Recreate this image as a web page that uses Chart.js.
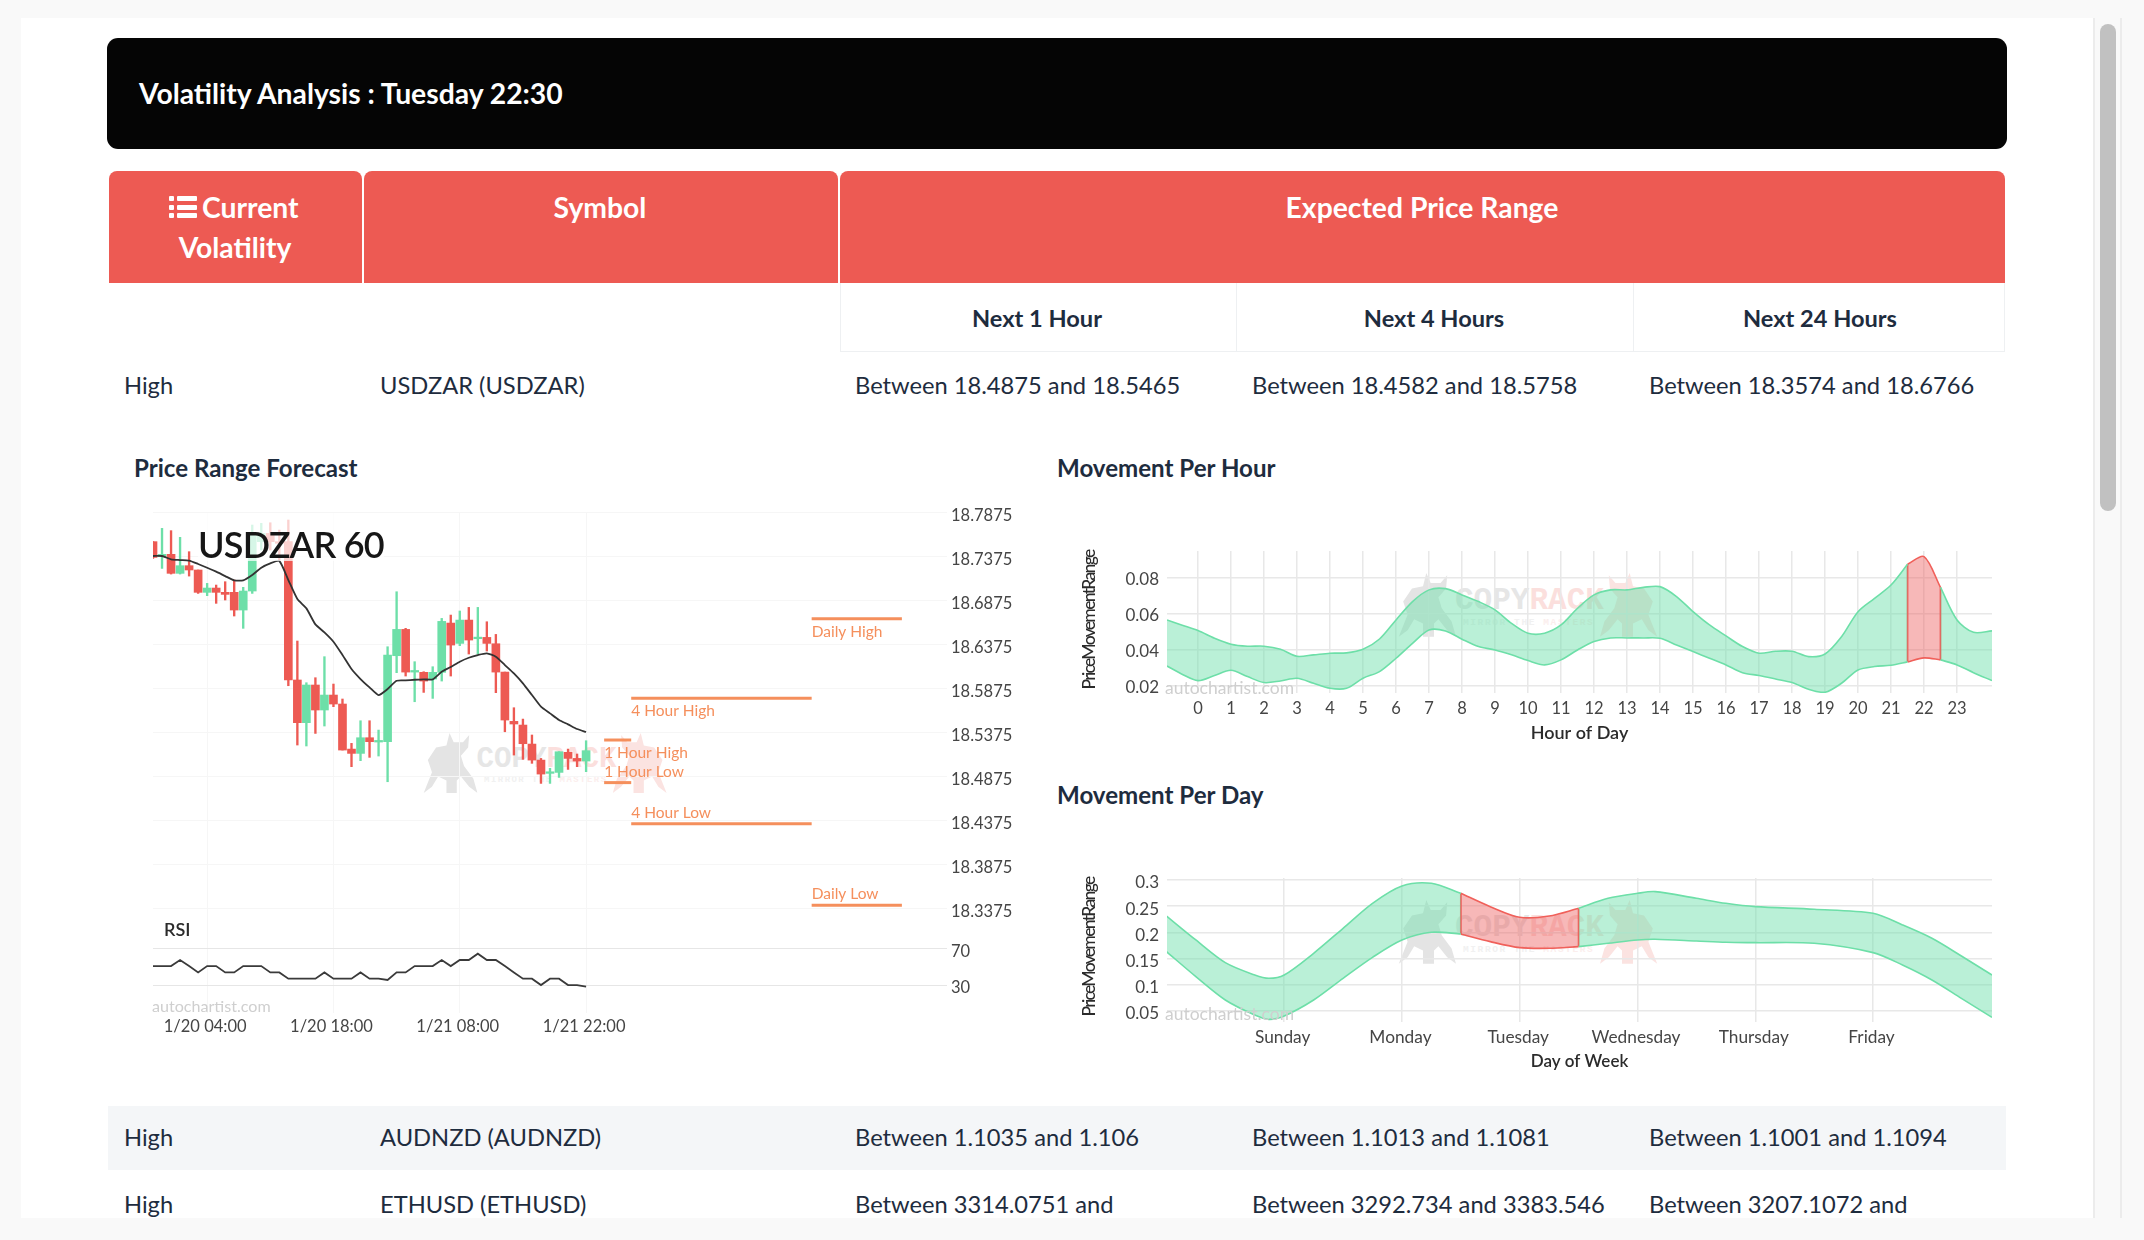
<!DOCTYPE html>
<html>
<head>
<meta charset="utf-8">
<title>Volatility Analysis</title>
<script src="https://cdn.jsdelivr.net/npm/chart.js@4"></script>
<style>
html, body { margin: 0; padding: 0; }
body { width: 2144px; height: 1240px; overflow: hidden; background: #f9f9f9; position: relative; font-family: Lato, sans-serif; color: #1e2c3e; }
.box { position: absolute; }
.txt { position: absolute; white-space: nowrap; transform: translateY(-50%); }
.mid { transform: translate(-50%, -50%); }
.cell { font-size: 23.7px; }
.sect { font-size: 24.1px; font-weight: 700; }
.head { font-size: 28.3px; font-weight: 700; color: #fff; }
.sub { font-size: 23.6px; font-weight: 700; }
canvas { position: absolute; filter: blur(0.35px); }
.ytitle { position: absolute; white-space: nowrap; font-size: 17.5px; font-weight: 500; letter-spacing: -1.7px; color: #2b2b2b; transform: translate(-50%, -50%) rotate(-90deg); }
.autotxt { position: absolute; white-space: nowrap; color: #cfcfcf; transform: translateY(-50%); }
.wmk { position: absolute; font-family: "Liberation Mono", monospace; font-weight: 700; white-space: nowrap; transform-origin: 0 0; }
</style>
</head>
<body>
<div id="page"></div>
<canvas id="priceChart" width="867" height="560" style="left:153px;top:485px"></canvas>
<canvas id="hourChart" width="960" height="230" style="left:1060px;top:520px"></canvas>
<canvas id="dayChart" width="960" height="230" style="left:1060px;top:848px"></canvas>
<div id="over"></div>
<script>
// ---- table text ----
const rowLevels = ['High', 'High', 'High'];
const rowSymbols = ['USDZAR (USDZAR)', 'AUDNZD (AUDNZD)', 'ETHUSD (ETHUSD)'];
const rowNextHour = ['Between 18.4875 and 18.5465', 'Between 1.1035 and 1.106', 'Between 3314.0751 and'];
const rowNextFour = ['Between 18.4582 and 18.5758', 'Between 1.1013 and 1.1081', 'Between 3292.734 and 3383.546'];
const rowNextDay = ['Between 18.3574 and 18.6766', 'Between 1.1001 and 1.1094', 'Between 3207.1072 and'];

// ---- price chart (hourly candles, index 0 = first bar) ----
const candleOpen = [18.7538,18.7367,18.7394,18.7178,18.7265,18.7216,18.6962,18.7011,18.6962,18.6962,18.6761,18.6977,18.7538,18.7632,18.7538,18.7538,18.5966,18.5481,18.5909,18.5625,18.5795,18.5693,18.5181,18.5132,18.5310,18.5261,18.5265,18.6242,18.6541,18.6056,18.6053,18.5977,18.6053,18.6613,18.6382,18.6647,18.6435,18.6450,18.6378,18.6056,18.5496,18.5454,18.5238,18.5056,18.4905,18.4916,18.5144,18.5075,18.5045];
const candleClose = [18.7359,18.7394,18.7178,18.7265,18.7216,18.6962,18.7011,18.6962,18.6939,18.6761,18.6977,18.7613,18.7632,18.7538,18.7519,18.5966,18.5481,18.5909,18.5625,18.5795,18.5693,18.5170,18.5132,18.5310,18.5265,18.5276,18.6250,18.6541,18.6056,18.6072,18.5954,18.6053,18.6632,18.6363,18.6647,18.6420,18.6450,18.6382,18.6056,18.5511,18.5466,18.5242,18.5056,18.4897,18.4916,18.5151,18.5075,18.5045,18.5163];
const candleHigh = [18.7538,18.7689,18.7663,18.7587,18.7424,18.7216,18.7064,18.7045,18.7083,18.7102,18.7019,18.7727,18.7746,18.7753,18.7670,18.7784,18.6409,18.5935,18.5992,18.6231,18.5920,18.5750,18.5246,18.5503,18.5503,18.5397,18.6344,18.6969,18.6553,18.6174,18.6060,18.6117,18.6666,18.6704,18.6750,18.6791,18.6791,18.6628,18.6484,18.6056,18.5651,18.5522,18.5341,18.5075,18.4962,18.5151,18.5181,18.5125,18.5276];
const candleLow = [18.7348,18.7234,18.7170,18.7170,18.7147,18.6950,18.6924,18.6837,18.6875,18.6693,18.6553,18.6950,18.7443,18.7443,18.7329,18.5901,18.5227,18.5216,18.5359,18.5443,18.5663,18.5170,18.4981,18.5049,18.5087,18.5102,18.4810,18.6049,18.6011,18.5719,18.5825,18.5757,18.5954,18.6011,18.6356,18.6261,18.6261,18.6295,18.5822,18.5378,18.5113,18.5064,18.5019,18.4791,18.4791,18.4859,18.4950,18.4981,18.4924];
const maLine = [18.7375,18.7375,18.7337,18.7329,18.7322,18.7284,18.7242,18.7197,18.7147,18.7098,18.7098,18.7159,18.7242,18.7291,18.7318,18.7102,18.6886,18.6780,18.6598,18.6507,18.6401,18.6250,18.6091,18.5977,18.5882,18.5795,18.5863,18.5958,18.5962,18.5969,18.5973,18.5973,18.6060,18.6113,18.6174,18.6219,18.6250,18.6269,18.6231,18.6136,18.6041,18.5928,18.5795,18.5663,18.5587,18.5511,18.5462,18.5409,18.5375];
const rsiLine = [50.7,50.7,50.7,57.3,50.7,43.8,50.7,50.7,43.8,43.8,50.7,50.7,50.7,43.8,43.8,36.9,36.9,36.9,36.9,43.8,36.9,36.9,36.9,43.8,36.9,36.9,35.5,43.8,43.8,50.7,50.7,50.7,57.3,50.7,57.3,57.3,64.2,57.3,57.3,50.7,43.8,36.9,36.9,30,36.9,36.9,30,30,28.2];
const priceTicks = [18.7875,18.7375,18.6875,18.6375,18.5875,18.5375,18.4875,18.4375,18.3875,18.3375];
const rsiTicks = [70, 30];
const timeTicks = [6, 20, 34, 48];
const timeLabels = ['1/20 04:00', '1/20 18:00', '1/21 08:00', '1/21 22:00'];
const rangeNames = ['1 Hour High', '1 Hour Low', '4 Hour High', '4 Hour Low', 'Daily High', 'Daily Low'];
const rangeValues = [18.5284, 18.4800, 18.5758, 18.4333, 18.6663, 18.3406];
const rangeFrom = [50, 50, 53, 53, 73, 73];
const rangeTo = [53, 53, 73, 73, 83, 83];

// ---- movement per hour ----
const hourX = [-0.94,-0.5,0,0.5,1,1.5,2,2.5,3,3.5,4,4.5,5,5.5,6,6.5,7,7.5,8,8.5,9,9.5,10,10.5,11,11.5,12,12.5,13,13.5,14,14.5,15,15.5,16,16.5,17,17.5,18,18.5,19,19.5,20,20.5,21,21.5,22,22.5,23,23.5,24.06];
const hourUpper = [.0567,.0539,.0508,.0465,.0432,.0421,.0421,.0404,.0365,.0373,.0382,.0384,.0404,.0461,.0567,.0669,.0734,.0741,.0706,.0669,.0623,.0548,.0493,.0493,.0539,.0632,.0706,.0734,.0734,.0748,.0752,.0697,.0613,.0539,.0478,.0419,.0382,.0393,.0393,.0363,.0378,.0474,.0613,.0687,.0761,.0876,.0919,.0748,.0567,.0498,.0506];
const hourLower = [.0311,.0267,.0230,.0258,.0287,.0252,.0219,.0228,.0243,.0215,.0187,.0187,.0243,.0280,.0354,.0437,.0511,.0506,.0460,.0419,.0400,.0373,.0341,.0317,.0345,.0400,.0447,.0467,.0467,.0467,.0465,.0428,.0391,.0354,.0317,.0274,.0258,.0239,.0219,.0182,.0165,.0215,.0289,.0308,.0315,.0334,.0356,.0345,.0317,.0274,.0230];
const hourTicksX = [0,1,2,3,4,5,6,7,8,9,10,11,12,13,14,15,16,17,18,19,20,21,22,23];
const hourTicksY = [0.08, 0.06, 0.04, 0.02];
const hourNow = [21.5, 22.5];

// ---- movement per day ----
const dayX = [-1,-0.75,-0.5,-0.25,-0.13,0,0.25,0.5,0.75,1,1.25,1.5,1.75,2,2.25,2.5,2.75,3,3.15,3.5,3.75,4,4.5,5,5.25,5.5,5.75,6.01];
const dayUpper = [.2313,.1855,.1423,.1187,.1124,.1187,.1601,.2078,.2555,.2886,.2937,.2746,.2491,.2288,.2313,.2460,.2650,.2746,.2778,.2650,.2555,.2491,.2441,.2364,.2142,.1887,.1550,.1187];
const dayLower = [.1633,.1156,.0710,.0424,.0341,.0405,.0710,.1124,.1524,.1855,.2002,.1970,.1824,.1709,.1696,.1728,.1792,.1855,.1868,.1836,.1811,.1804,.1792,.1614,.1378,.1092,.0742,.0379];
const dayTicksX = [0,1,2,3,4,5];
const dayNames = ['Sunday','Monday','Tuesday','Wednesday','Thursday','Friday'];
const dayTicksY = [0.3,0.25,0.2,0.15,0.1,0.05];
const dayNow = [1.5, 2.5];

const RED = '#ed5a53';
const GREEN = '#6ddfa8';
const ORANGE = '#f58f5c';
const TICK = '#454545';

Chart.defaults.font.family = 'Lato, sans-serif';
Chart.defaults.animation = false;

/**
 * Page furniture (everything around the charts)
 */
function addBox(parent, left, top, width, height, css) {
    const el = document.createElement('div');
    el.className = 'box';
    el.style.cssText = `left:${left}px;top:${top}px;width:${width}px;height:${height}px;${css}`;
    parent.appendChild(el);
    return el;
}

function addText(parent, text, x, y, cls) {
    const el = document.createElement('div');
    el.className = 'txt ' + cls;
    el.textContent = text;
    el.style.left = x + 'px';
    el.style.top = y + 'px';
    parent.appendChild(el);
    return el;
}

function buildPage() {
    const page = document.getElementById('page');
    addBox(page, 21, 18, 2072, 1200, 'background:#fff');
    addBox(page, 2093, 18, 2, 1200, 'background:#ececec');
    addBox(page, 2120, 18, 2, 1200, 'background:#ececec');
    addBox(page, 2100, 24, 16, 487, 'background:#c1c1c1;border-radius:8px');

    addBox(page, 107, 38, 1900, 111, 'background:#050505;border-radius:11px');
    addText(page, 'Volatility Analysis : Tuesday 22:30', 139, 93, 'head');

    addBox(page, 109, 171, 253, 112, `background:${RED};border-radius:8px 8px 0 0`);
    addBox(page, 364, 171, 474, 112, `background:${RED};border-radius:8px 8px 0 0`);
    addBox(page, 840, 171, 1165, 112, `background:${RED};border-radius:8px 8px 0 0`);

    // list icon of the first header cell
    const icon = addBox(page, 169, 195, 28, 26, '');
    [1, 9.5, 18].forEach(top => {
        addBox(icon, 0, top, 5, 5, 'background:#fff;border-radius:1px');
        addBox(icon, 8, top, 20, 5, 'background:#fff;border-radius:1px');
    });
    addText(page, 'Current', 202, 207, 'head');
    addText(page, 'Volatility', 235, 247, 'head mid');
    addText(page, 'Symbol', 600, 207, 'head mid');
    addText(page, 'Expected Price Range', 1422, 207, 'head mid');

    addBox(page, 840, 283, 1165, 69, 'box-sizing:border-box;border:solid #eef0f2;border-width:0 1px 1px 1px');
    addBox(page, 1236, 283, 1, 69, 'background:#eef0f2');
    addBox(page, 1633, 283, 1, 69, 'background:#eef0f2');
    addText(page, 'Next 1 Hour', 1037, 318, 'sub mid');
    addText(page, 'Next 4 Hours', 1434, 318, 'sub mid');
    addText(page, 'Next 24 Hours', 1820, 318, 'sub mid');

    addBox(page, 108, 1106, 1898, 64, 'background:#f4f6f8');
    const rowY = [385, 1137, 1204];
    rowY.forEach((y, i) => {
        addText(page, rowLevels[i], 124, y, 'cell');
        addText(page, rowSymbols[i], 380, y, 'cell');
        addText(page, rowNextHour[i], 855, y, 'cell');
        addText(page, rowNextFour[i], 1252, y, 'cell');
        addText(page, rowNextDay[i], 1649, y, 'cell');
    });

    addText(page, 'Price Range Forecast', 134, 467, 'sect');
    addText(page, 'Movement Per Hour', 1057, 467, 'sect');
    addText(page, 'Movement Per Day', 1057, 794, 'sect');

    addWatermark(page, 422, 733, 0.94);
    addWatermark(page, 1397, 573, 1);
    addWatermark(page, 1397, 900, 1);
}

/**
 * Faint logo that sits behind the charts
 */
function addWatermark(parent, left, top, scale) {
    const bull = 'M8 58 L16 38 L12 26 L20 14 L30 12 L33 0 L37 9 L46 9 L52 2 L51 14 L44 22 L47 32 L56 44 L60 58 L52 52 L44 42 L40 46 L40 58 L30 58 L30 46 L22 42 L16 52 Z';
    const wrap = addBox(parent, left, top, 270, 62, `transform-origin:0 0;transform:scale(${scale})`);
    wrap.innerHTML =
        `<svg viewBox="0 0 60 60" width="66" height="66" style="position:absolute;left:-7px;top:0"><path d="${bull}" fill="#e4e4e4"/></svg>` +
        `<svg viewBox="0 0 60 60" width="66" height="66" style="position:absolute;left:203px;top:0;transform:scaleX(-1)"><path d="${bull}" fill="#fbe3e1"/></svg>` +
        '<div class="wmk" style="left:58px;top:10px;font-size:31px;color:#e6e6e6;letter-spacing:0">COPY<span style="color:#fbdfdd">RACK</span></div>' +
        '<div class="wmk" style="left:66px;top:44px;font-size:9.5px;letter-spacing:1.6px;color:#f1f1f1">MIRROR THE <span style="color:#fbeeed">MASTERS</span></div>';
}

/**
 * Price chart labels for the forecast ranges
 */
const rangeLabelPlugin = {
    id: 'rangeLabels',
    afterDatasetsDraw(chart) {
        const { ctx, scales } = chart;
        ctx.save();
        ctx.font = '15.5px Lato, sans-serif';
        ctx.fillStyle = ORANGE;
        ctx.textBaseline = 'middle';
        rangeNames.forEach((name, i) => {
            const above = name.endsWith('Low');
            const px = scales.x.getPixelForValue(rangeFrom[i]);
            const py = scales.y.getPixelForValue(rangeValues[i]);
            ctx.fillText(name, px, py + (above ? -11 : 13));
        });
        ctx.restore();
    }
};

function pinTicks(values) {
    return axis => { axis.ticks = values.map(value => ({ value })); };
}

function renderPriceChart() {
    const isUp = candleOpen.map((open, i) => candleClose[i] >= open);
    const colors = isUp.map(up => (up ? GREEN : RED));

    const datasets = [
        {
            type: 'line', yAxisID: 'y', order: 1,
            data: maLine.map((y, x) => ({ x, y })),
            borderColor: '#333', borderWidth: 1.8, pointRadius: 0, tension: 0.2
        },
        {
            type: 'line', yAxisID: 'rsi', order: 1,
            data: rsiLine.map((y, x) => ({ x, y })),
            borderColor: '#3a3a3a', borderWidth: 1.8, pointRadius: 0
        },
        {
            type: 'bar', yAxisID: 'y', order: 2, grouped: false,
            data: candleOpen.map((open, x) => ({ x, y: [open, candleClose[x]] })),
            backgroundColor: colors, barThickness: 8, minBarLength: 1.6, borderSkipped: false
        },
        {
            type: 'bar', yAxisID: 'y', order: 3, grouped: false,
            data: candleLow.map((low, x) => ({ x, y: [low, candleHigh[x]] })),
            backgroundColor: colors, barThickness: 1.7, borderSkipped: false
        }
    ];
    rangeValues.forEach((value, i) => {
        datasets.push({
            type: 'line', yAxisID: 'y', order: 1,
            data: [{ x: rangeFrom[i], y: value }, { x: rangeTo[i], y: value }],
            borderColor: ORANGE, borderWidth: 3, pointRadius: 0
        });
    });

    new Chart(document.getElementById('priceChart'), {
        type: 'bar',
        data: { datasets },
        plugins: [rangeLabelPlugin],
        options: {
            responsive: false,
            layout: { padding: { top: 27, right: 0, left: 0, bottom: 0 } },
            plugins: { legend: { display: false }, tooltip: { enabled: false } },
            scales: {
                x: {
                    type: 'linear', min: 0, max: 88, offset: false,
                    afterBuildTicks: pinTicks(timeTicks),
                    afterFit: axis => { axis.height = 32; },
                    grid: { color: '#f6f6f6', offset: false, drawTicks: false },
                    border: { display: false },
                    ticks: {
                        autoSkip: false, maxRotation: 0, padding: 4, labelOffset: -2, color: TICK, font: { size: 16.5 },
                        callback: value => timeLabels[timeTicks.indexOf(value)]
                    }
                },
                y: {
                    position: 'right', stack: 'panes', stackWeight: 413, bounds: 'data',
                    min: 18.3182, max: 18.7875,
                    afterBuildTicks: pinTicks(priceTicks),
                    afterFit: axis => { axis.width = 73; },
                    grid: { color: '#f6f6f6', drawTicks: false },
                    border: { display: false },
                    ticks: {
                        autoSkip: false, padding: 4, labelOffset: 4, crossAlign: 'near', color: TICK, font: { size: 16.5 },
                        callback: value => value.toFixed(4)
                    }
                },
                rsi: {
                    position: 'right', stack: 'panes', stackWeight: 88, bounds: 'data',
                    min: -0.5, max: 95.5,
                    afterBuildTicks: pinTicks(rsiTicks),
                    afterFit: axis => { axis.width = 73; },
                    grid: { color: '#e6e6e6', drawTicks: false },
                    border: { display: false },
                    ticks: { autoSkip: false, padding: 4, labelOffset: 3, crossAlign: 'near', color: TICK, font: { size: 16.5 } }
                }
            }
        }
    });
}

/**
 * Band between two curves, green outside the current period and red inside it
 */
function bandSets(xs, upper, lower, from, to, lineColor, fillColor) {
    const points = values => xs.slice(from, to + 1).map((x, i) => ({ x, y: values[from + i] }));
    const line = { type: 'line', borderColor: lineColor, borderWidth: 1.6, pointRadius: 0, tension: 0.3 };
    return [
        { ...line, data: points(upper), fill: false },
        { ...line, data: points(lower), fill: '-1', backgroundColor: fillColor }
    ];
}

function renderBandChart(canvasId, cfg) {
    const { xs, upper, lower, now } = cfg;
    const a = xs.indexOf(now[0]);
    const b = xs.indexOf(now[1]);
    const greenFill = 'rgba(108,224,170,0.47)';
    const datasets = [
        ...bandSets(xs, upper, lower, 0, a, GREEN, greenFill),
        ...bandSets(xs, upper, lower, b, xs.length - 1, GREEN, greenFill),
        ...bandSets(xs, upper, lower, a, b, '#f0605a', 'rgba(235,85,85,0.42)')
    ];
    [a, b].forEach(i => {
        datasets.push({
            type: 'line', borderColor: '#f0605a', borderWidth: 1.8, pointRadius: 0,
            data: [{ x: xs[i], y: upper[i] }, { x: xs[i], y: lower[i] }]
        });
    });

    new Chart(document.getElementById(canvasId), {
        type: 'line',
        data: { datasets },
        options: {
            responsive: false,
            layout: { padding: { top: cfg.top, right: 28, left: 0, bottom: 0 } },
            plugins: { legend: { display: false }, tooltip: { enabled: false } },
            scales: {
                x: {
                    type: 'linear', min: cfg.minX, max: cfg.maxX,
                    afterBuildTicks: pinTicks(cfg.ticksX),
                    afterFit: axis => { axis.height = cfg.bottom; },
                    grid: { color: '#e8e8e8', lineWidth: 1.5, drawTicks: false },
                    border: { display: false },
                    ticks: {
                        autoSkip: false, maxRotation: 0, padding: cfg.tickPad, labelOffset: cfg.offsetX, color: TICK, font: { size: cfg.fontX },
                        callback: cfg.labelX
                    },
                    title: {
                        display: true, text: cfg.titleX, color: '#2b2b2b', padding: { top: 0, bottom: cfg.titlePad },
                        font: { size: cfg.titleSize, weight: '600' }
                    }
                },
                y: {
                    min: cfg.minY, max: cfg.maxY, bounds: 'data',
                    afterBuildTicks: pinTicks(cfg.ticksY),
                    afterFit: axis => { axis.width = 107; },
                    grid: { color: '#e8e8e8', lineWidth: 1.5, drawTicks: false },
                    border: { display: false },
                    ticks: { autoSkip: false, padding: 8, labelOffset: cfg.offsetY, color: TICK, font: { size: 17 }, callback: cfg.labelY }
                }
            }
        }
    });
}

/**
 * Texts over the charts
 */
function buildOverlay() {
    const over = document.getElementById('over');
    const title = addText(over, 'USDZAR 60', 198, 537, '');
    title.style.cssText += 'font-size:36px;font-weight:600;color:#161616;background:rgba(255,255,255,0.72);letter-spacing:-0.8px;line-height:34px;padding:14px 0 0 0;';

    const rsi = addText(over, 'RSI', 164, 929, '');
    rsi.style.cssText += 'font-size:18px;font-weight:600;color:#2b2b2b;';

    [[152, 1005, 16.1], [1165, 687, 17.5], [1165, 1013, 17.5]].forEach(([x, y, size]) => {
        const el = document.createElement('div');
        el.className = 'autotxt';
        el.textContent = 'autochartist.com';
        el.style.cssText = `left:${x}px;top:${y}px;font-size:${size}px;`;
        over.appendChild(el);
    });

    [620, 947].forEach(y => {
        const el = document.createElement('div');
        el.className = 'ytitle';
        el.textContent = 'PriceMovementRange';
        el.style.left = '1088px';
        el.style.top = y + 'px';
        over.appendChild(el);
    });

    addBox(over, 0, 1218, 2144, 22, 'background:#f9f9f9');
}

buildPage();
renderPriceChart();
renderBandChart('hourChart', {
    xs: hourX, upper: hourUpper, lower: hourLower, now: hourNow,
    minX: -0.94, maxX: 24.06, minY: 0.0161, maxY: 0.095,
    ticksX: hourTicksX, ticksY: hourTicksY,
    labelX: value => String(value), labelY: value => value.toFixed(2),
    titleX: 'Hour of Day', titleSize: 18, top: 31, bottom: 57, tickPad: 6, fontX: 16.5, titlePad: 6, offsetX: 0, offsetY: 2
});
renderBandChart('dayChart', {
    xs: dayX, upper: dayUpper, lower: dayLower, now: dayNow,
    minX: -0.995, maxX: 6.01, minY: 0.029, maxY: 0.3038,
    ticksX: dayTicksX, ticksY: dayTicksY,
    labelX: value => dayNames[value], labelY: value => String(value),
    titleX: 'Day of Week', titleSize: 17, top: 30, bottom: 56, tickPad: 5, fontX: 17.3, titlePad: 6, offsetX: -1.5, offsetY: 3
});
buildOverlay();
</script>
</body>
</html>
